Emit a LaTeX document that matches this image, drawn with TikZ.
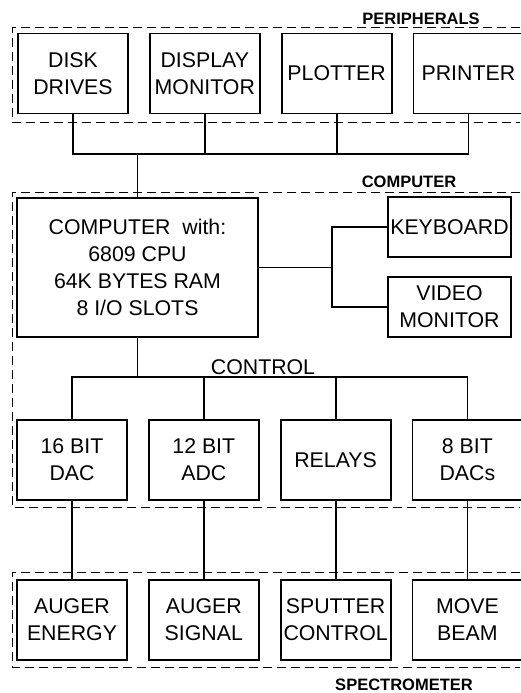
\documentclass[tikz,border=0pt]{standalone}
\usepackage{fontspec}
\setmainfont{Liberation Sans}
\usepackage{tikz}
\usetikzlibrary{positioning,calc}
\tikzset{
  node-unit/.style={draw,line width=1.8pt,minimum width=110pt,minimum height=80pt,
    inner sep=0pt,align=center,font=\fontsize{21.3}{27}\selectfont},
  node-cpu/.style={node-unit,minimum width=241pt,minimum height=139pt},
  node-side/.style={node-unit,minimum width=123pt,minimum height=60pt},
  frame-group/.style={line width=1pt,dash pattern=on 9pt off 5pt},
  label-group/.style={anchor=base,font=\bfseries\fontsize{16.5}{18}\selectfont},
  label-bus/.style={anchor=base,font=\fontsize{21.3}{24}\selectfont},
  wire/.style={line width=1.8pt},
}

\begin{document}
\begin{tikzpicture}[x=1pt,y=-1pt,node distance=20pt]
  \useasboundingbox (0,0) rectangle (520,693);

  % peripherals
  \draw[frame-group] (520,28) -- (12,28) -- (12,122) -- (520,122);
  \node[label-group] (lperiph) at (421,25) {PERIPHERALS};
  \node[node-unit] (disk) at (73,73.5) {DISK\\DRIVES};
  \node[node-unit,right=of disk] (disp) {DISPLAY\\MONITOR};
  \node[node-unit,right=of disp] (plot) {PLOTTER};
  \node[node-unit,right=of plot] (print) {PRINTER};

  % computer
  \draw[frame-group] (520,192) -- (12,192) -- (12,507) -- (520,507);
  \node[label-group] (lcomp) at (409,187) {COMPUTER};
  \node[node-cpu] (comp) at (137.5,267.5) {COMPUTER\ \ with:\\6809 CPU\\64K BYTES RAM\\8 I/O SLOTS};
  \node[node-side] (kbd) at (449.5,227) {KEYBOARD};
  \node[node-side] (vid) at (449.5,307) {VIDEO\\MONITOR};
  \node[node-unit] (dac16) at (72,460) {16 BIT\\DAC};
  \node[node-unit,right=of dac16] (adc) {12 BIT\\ADC};
  \node[node-unit,right=of adc] (relay) {RELAYS};
  \node[node-unit,right=of relay] (dac8) {8 BIT\\DACs};
  \node[label-bus] (lctrl) at (263,374) {CONTROL};

  % spectrometer
  \draw[frame-group] (520,572) -- (12,572) -- (12,667) -- (520,667);
  \node[label-group] (lspec) at (404,690) {SPECTROMETER};
  \node[node-unit] (energy) at (72,620) {AUGER\\ENERGY};
  \node[node-unit,right=of energy] (signal) {AUGER\\SIGNAL};
  \node[node-unit,right=of signal] (sputter) {SPUTTER\\CONTROL};
  \node[node-unit,right=of sputter] (beam) {MOVE\\BEAM};

  % buses
  \coordinate (pbus) at (137.5,154);
  \draw[wire] (disk.south) |- (print.south |- pbus) -- (print.south);
  \draw[wire] (disp.south) -- (disp.south |- pbus);
  \draw[wire] (plot.south) -- (plot.south |- pbus);
  \draw[wire] (pbus) -- (comp.north);

  \coordinate (split) at (332,267.5);
  \draw[wire] (comp.east) -- (split);
  \draw[wire] (kbd.west) -| (split) |- (vid.west);

  \coordinate (cbus) at (137.5,377);
  \draw[wire] (comp.south) -- (cbus);
  \draw[wire] (dac16.north) |- (dac8.north |- cbus) -- (dac8.north);
  \draw[wire] (adc.north) -- (adc.north |- cbus);
  \draw[wire] (relay.north) -- (relay.north |- cbus);

  \draw[wire] (dac16.south) -- (energy.north);
  \draw[wire] (adc.south) -- (signal.north);
  \draw[wire] (relay.south) -- (sputter.north);
  \draw[wire] (dac8.south) -- (beam.north);
\end{tikzpicture}
\end{document}
